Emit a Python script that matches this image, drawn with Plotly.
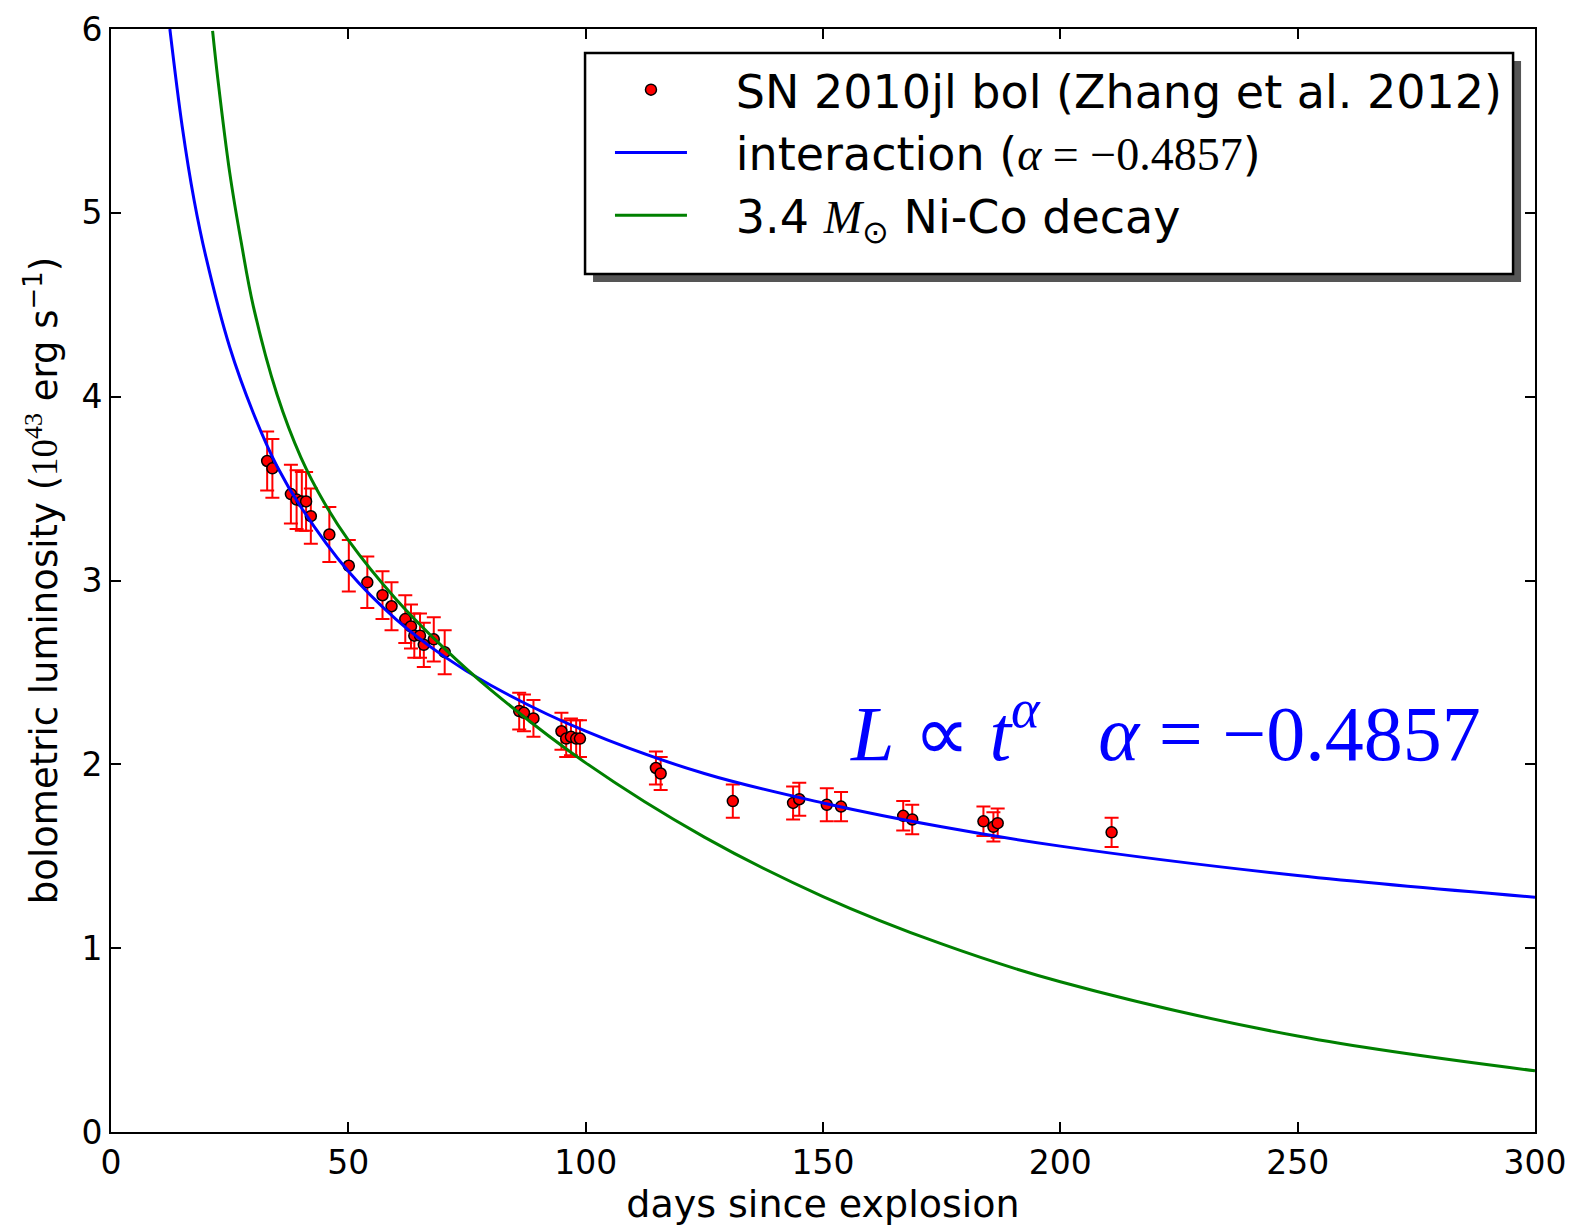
import plotly.graph_objects as go

# Observed bolometric luminosity (SN 2010jl)
days = [32.9, 34.0, 37.9, 39.1, 40.2, 41.1, 42.1, 46.0, 50.1, 54.0, 57.2, 59.1,
        62.0, 63.2, 63.9, 65.1, 65.9, 68.0, 70.3,
        86.0, 87.0, 89.0, 94.9, 95.9, 96.9, 98.0, 98.8, 114.8, 115.8,
        131.0, 143.7, 145.0, 150.8, 153.8, 166.9, 168.8, 183.8, 185.9, 186.8, 210.8]
lum = [3.65, 3.61, 3.47, 3.44, 3.43, 3.43, 3.35, 3.25, 3.08, 2.99, 2.92, 2.86,
       2.79, 2.75, 2.70, 2.70, 2.65, 2.68, 2.61,
       2.29, 2.28, 2.25, 2.18, 2.14, 2.15, 2.14, 2.14, 1.98, 1.95,
       1.80, 1.79, 1.81, 1.78, 1.77, 1.72, 1.70, 1.69, 1.66, 1.68, 1.63]
lum_err = [0.16, 0.16, 0.16, 0.16, 0.16, 0.16, 0.15, 0.15, 0.14, 0.14, 0.13, 0.13,
           0.13, 0.12, 0.12, 0.12, 0.12, 0.12, 0.12,
           0.10, 0.10, 0.10, 0.10, 0.10, 0.10, 0.10, 0.10, 0.09, 0.09,
           0.09, 0.09, 0.09, 0.09, 0.08, 0.08, 0.08, 0.08, 0.08, 0.08, 0.08]

# Interaction model curve
int_days = [12.4, 15, 17.5, 20, 25, 30, 35, 40, 50, 60, 70, 80, 100, 125, 150, 175, 200, 250, 300]
int_lum = [6.0, 5.47, 5.07, 4.76, 4.27, 3.91, 3.62, 3.40, 3.05, 2.79, 2.59, 2.43, 2.18,
           1.95, 1.79, 1.66, 1.555, 1.395, 1.277]

# Ni-Co decay curve
ni_days = [21.4, 22.5, 25, 27.5, 30, 35, 40, 45, 50, 60, 70, 80, 100, 125, 150, 175, 200, 250, 300]
ni_lum = [5.99, 5.73, 5.22, 4.83, 4.49, 4.01, 3.67, 3.42, 3.22, 2.90, 2.636, 2.405, 2.008,
          1.604, 1.281, 1.023, 0.817, 0.522, 0.333]

x_ticks = [0, 50, 100, 150, 200, 250, 300]
y_ticks = [0, 1, 2, 3, 4, 5, 6]

SERIF = "font-family:'Liberation Serif'"
PAD = "\u00a0\u00a0\u00a0"

fig = go.Figure()
fig.add_trace(go.Scatter(
    x=days, y=lum, mode="markers", legendgroup="a",
    name=PAD + "SN 2010jl bol (Zhang et al. 2012)",
    marker=dict(color="#ff0000", size=11, line=dict(color="black", width=1.5)),
    error_y=dict(type="data", array=lum_err, color="#ff0000", thickness=2, width=7),
))
fig.add_trace(go.Scatter(
    x=int_days, y=int_lum, mode="lines", line_shape="spline", legendgroup="b",
    name=PAD + f"interaction (<span style=\"{SERIF}\"><i>α</i> = −0.4857</span>)",
    line=dict(color="#0000ff", width=3),
))
fig.add_trace(go.Scatter(
    x=ni_days, y=ni_lum, mode="lines", line_shape="spline", legendgroup="c",
    name=PAD + f"3.4 <span style=\"{SERIF}\"><i>M</i><sub>⊙</sub></span> Ni-Co decay",
    line=dict(color="#008000", width=3),
))

axis_common = dict(
    showline=True, linecolor="black", linewidth=2, mirror="ticks",
    ticks="inside", ticklen=10, tickwidth=1.5, tickcolor="black",
    showgrid=False, zeroline=False, automargin=False,
    tickfont=dict(family="DejaVu Sans", size=33, color="black"),
)

fig.update_xaxes(range=[0, 300], tickvals=x_ticks,
                 title=dict(text="days since explosion", standoff=8,
                            font=dict(family="DejaVu Sans", size=38, color="black")),
                 **axis_common)
fig.update_yaxes(range=[0, 6], tickvals=y_ticks,
                 title=dict(text=f"bolometric luminosity (<span style=\"{SERIF}\">10<sup>43</sup></span> erg s<sup>−1</sup>)",
                            standoff=12,
                            font=dict(family="DejaVu Sans", size=37, color="black")),
                 **axis_common)

# legend frame: drop shadow + white box with black border
fig.add_shape(type="rect", xref="paper", yref="paper",
              x0=0.3385, x1=0.9902, y0=0.7706, y1=0.9710,
              fillcolor="#555555", line=dict(width=0), layer="above")
fig.add_shape(type="rect", xref="paper", yref="paper",
              x0=0.3329, x1=0.9846, y0=0.7779, y1=0.9782,
              fillcolor="white", line=dict(color="black", width=2.5), layer="above")

fig.add_annotation(
    x=0.9635, y=2.2, xref="paper", yref="y", xanchor="right", yanchor="middle",
    text="<i>L</i> ∝ <i>t</i><sup><i>α</i></sup>   <i>α</i> = −0.4857",
    showarrow=False,
    font=dict(family="Liberation Serif", size=78, color="#0000ff"),
)

fig.update_layout(
    width=1577, height=1220,
    margin=dict(l=103, r=50, t=21, b=96, autoexpand=False),
    paper_bgcolor="white", plot_bgcolor="white",
    showlegend=True,
    legend=dict(
        x=0.3504, y=0.978, xanchor="left", yanchor="top",
        bgcolor="rgba(0,0,0,0)", borderwidth=0,
        font=dict(family="DejaVu Sans", size=46, color="black"),
        itemwidth=72, tracegroupgap=16, traceorder="normal",
    ),
)

fig.write_html("out.html")
